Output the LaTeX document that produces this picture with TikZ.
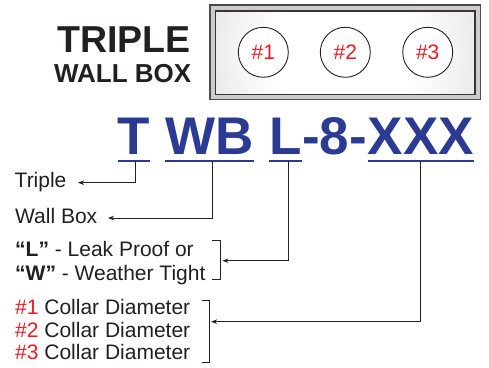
\documentclass[tikz,border=0pt]{standalone}
\usepackage{fontspec}
\setmainfont{Liberation Sans}
\usetikzlibrary{arrows.meta}
\definecolor{codeblue}{HTML}{2B3A92}
\definecolor{numred}{HTML}{EC1C24}
\definecolor{ink}{HTML}{231F20}
\pgfdeclareradialshading{boxshade}{\pgfpoint{0bp}{0bp}}{color(0bp)=(white); color(14bp)=(white); color(50bp)=(black!25); color(72bp)=(black!32)}
\begin{document}
\begin{tikzpicture}[x=1pt,y=-1pt,
  lbl/.style={inner sep=0pt, anchor=base west, text=ink, font=\fontsize{21}{25}\selectfont},
  code/.style={inner sep=0pt, anchor=base west, text=codeblue, font=\fontsize{53}{60}\selectfont\bfseries},
  uline/.style={draw=codeblue, line width=2.6pt},
  conn/.style={draw=ink, line width=1pt, -{Stealth[length=6pt,width=4.5pt]}},
  bracket/.style={draw=ink, line width=1pt},
  hole/.style={circle, draw=ink, line width=0.9pt, fill=white, minimum size=50pt, inner sep=0pt, text=numred, font=\fontsize{21}{25}\selectfont},
  ttl/.style={inner sep=0pt, anchor=base east, text=ink}
]
\useasboundingbox (0,0) rectangle (489,367);
% box
\draw[draw=black!70, line width=1.2pt, fill=black!20] (210,5) rectangle (480.5,99.3);
\begin{scope}
  \clip (215.5,11) rectangle (475,94.3);
  \shade[shading=boxshade] (213,-60) rectangle (477.5,165);
\end{scope}
\draw[draw=ink!90, line width=1.3pt] (215.5,11) rectangle (475,94.3);
\node[hole] (h1) at (263.3,52.3) {\#1};
\node[hole] (h2) at (345.3,52.3) {\#2};
\node[hole] (h3) at (427.7,52.3) {\#3};
% title
\node[ttl, font=\fontsize{37.5}{40}\selectfont\bfseries] (t1) at (191,52) {TRIPLE};
\node[ttl, font=\fontsize{26}{30}\selectfont\bfseries] (t2) at (191.5,82) {WALL BOX};
% code
\node[code] (cT) at (117.7,154.5) {T};
\node[code] (cWB) at (165,154.5) {WB};
\node[code] (cL) at (269.3,154.5) {L};
\node[code] (cMid) at (cL.base east) {-8-};
\node[code] (cX) at (367.7,154.5) {XXX};
\foreach \n in {cT,cWB,cL,cX}
  \draw[uline] ([yshift=-6.3pt]\n.base west) -- ([yshift=-6.3pt]\n.base east);
% labels
\node[lbl] (lTriple) at (14.5,187.7) {Triple};
\node[lbl] (lWall) at (15,223.3) {Wall Box};
\node[lbl] (lL) at (15,256) {{\bfseries “L”} - Leak Proof or};
\node[lbl] (lW) at (15,280) {{\bfseries “W”} - Weather Tight};
\node[lbl] (c1) at (15,314.5) {\textcolor{numred}{\#1} Collar Diameter};
\node[lbl] (c2) at (15,337) {\textcolor{numred}{\#2} Collar Diameter};
\node[lbl] (c3) at (15,359.5) {\textcolor{numred}{\#3} Collar Diameter};
% connector ends
\coordinate (sT) at (135.7,162);
\coordinate (sWB) at (212.3,162);
\coordinate (sL) at (288.3,162);
\coordinate (sX) at (420,162);
\coordinate (aTriple) at (78,182.7);
\coordinate (aWall) at (108,218);
\coordinate (aLW) at (222.3,260.7);
\coordinate (aCol) at (211,321.7);
\draw[conn] (sT) |- (aTriple);
\draw[conn] (sWB) |- (aWall);
\draw[conn] (sL) |- (aLW);
\draw[conn] (sX) |- (aCol);
% brackets
\draw[bracket] (212.3,240.7) -- (220.3,240.7) -- (220.3,279.3) -- (212.3,279.3);
\draw[bracket] (201.7,300) -- (209,300) -- (209,362.7) -- (201.7,362.7);
\end{tikzpicture}
\end{document}
